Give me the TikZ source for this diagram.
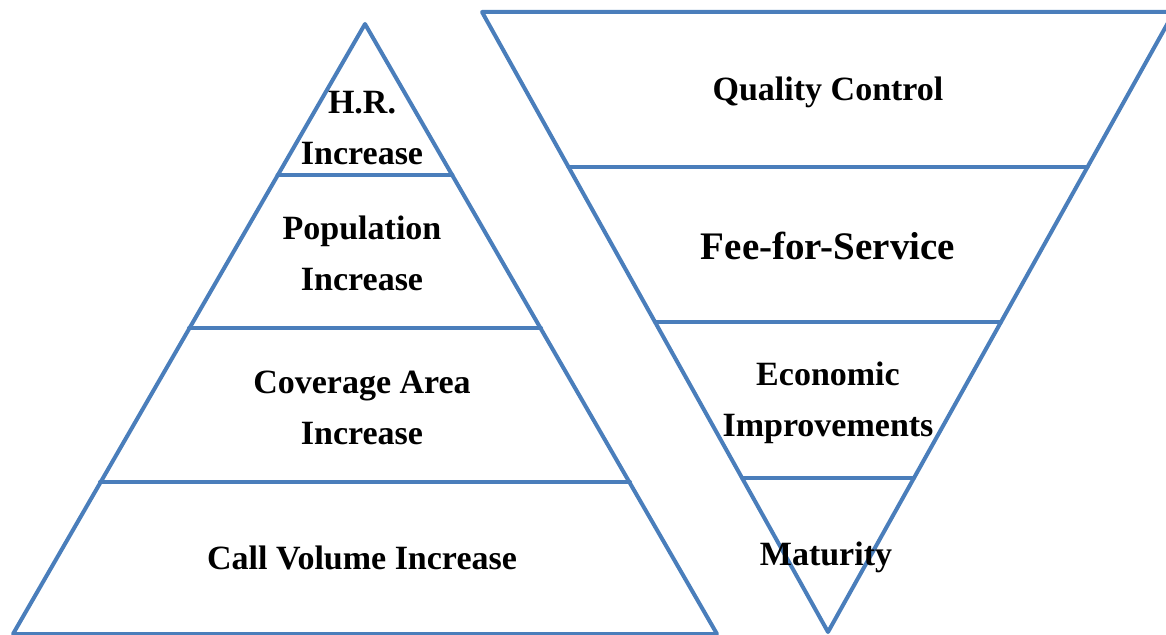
\documentclass[tikz,border=0pt]{standalone}
\usepackage{fontspec}
\setmainfont{Liberation Serif}
\definecolor{tierblue}{RGB}{74,126,187}
\begin{document}
\begin{tikzpicture}[x=1pt,y=-1pt,
  edge/.style={draw=tierblue,line width=4pt,line join=round,line cap=round},
  tier/.style={font=\fontsize{34}{51}\selectfont\bfseries,align=center,text=black,inner sep=0pt},
  bigtier/.style={tier,font=\fontsize{39}{51}\selectfont\bfseries}]
\useasboundingbox (0,0) rectangle (1166,634);
\clip (0,0) rectangle (1166,634);

% upright pyramid
\coordinate (apex) at (365,24);
\coordinate (bl) at (13,634);
\coordinate (br) at (717,634);
\draw[edge] (apex) -- (bl) -- (br) -- cycle;
\draw[edge] (277.6,175) -- (452.4,175);
\draw[edge] (189,328) -- (541,328);
\draw[edge] (100,482) -- (630,482);

% inverted pyramid
\coordinate (tl) at (482,12);
\coordinate (tr) at (1174,12);
\coordinate (tip) at (828,632);
\draw[edge] (tl) -- (tr) -- (tip) -- cycle;
\draw[edge] (568.5,167) -- (1087.5,167);
\draw[edge] (655,322) -- (1001,322);
\draw[edge] (742,478) -- (914,478);

% labels, upright pyramid
\node[tier] (hr) at (362,128) {H.R.\\Increase};
\node[tier] (pop) at (362,253) {Population\\Increase};
\node[tier] (cov) at (362,408) {Coverage Area\\Increase};
\node[tier] (call) at (362,558) {Call Volume Increase};

% labels, inverted pyramid
\node[tier] (qc) at (828,92) {Quality Control};
\node[bigtier] (ffs) at (828,246) {Fee-for-Service};
\node[tier] (eco) at (828,403) {Economic\\Improvements};
\node[tier] (mat) at (826,557) {Maturity};
\end{tikzpicture}
\end{document}
